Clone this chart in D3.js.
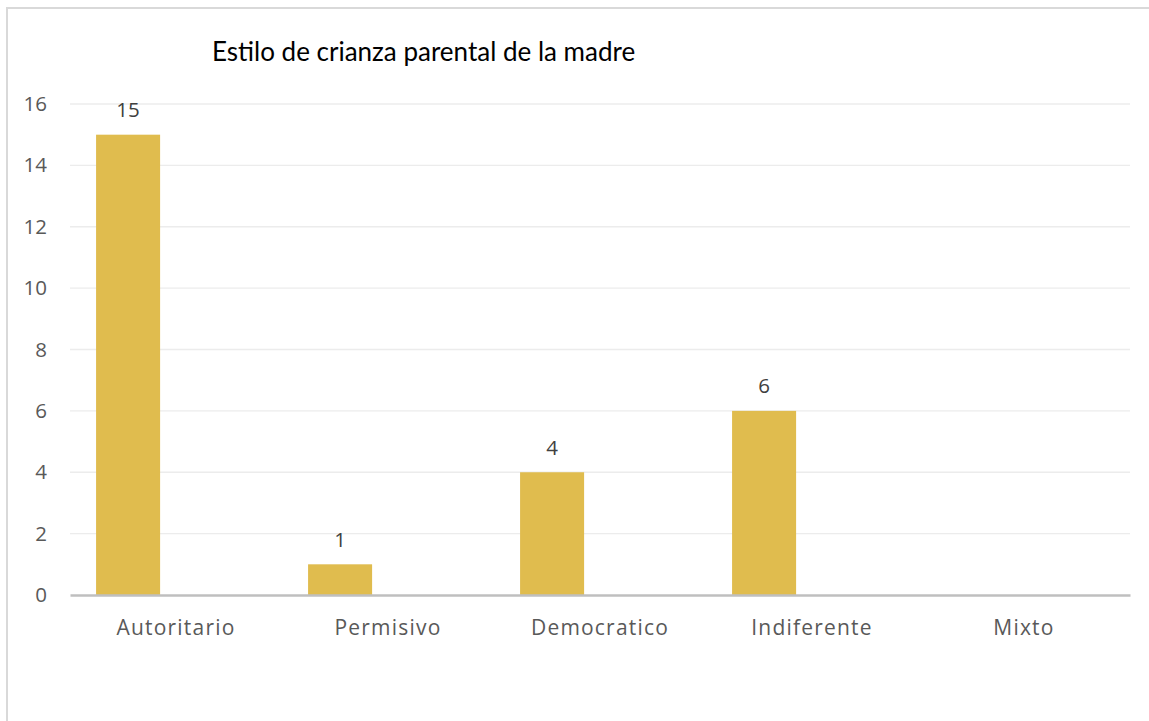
<!DOCTYPE html>
<html lang="es">
<head>
<meta charset="utf-8">
<title>Estilo de crianza parental de la madre</title>
<script src="https://d3js.org/d3.v7.min.js"></script>
<style>
  body { margin: 0; background: #fff; }
  svg { display: block; }
</style>
</head>
<body>
<script>
// data
const categories = ["Autoritario", "Permisivo", "Democratico", "Indiferente", "Mixto"];
const values = [15, 1, 4, 6, 0];
const yTicks = [0, 2, 4, 6, 8, 10, 12, 14, 16];
const title = "Estilo de crianza parental de la madre";

const W = 1149, H = 721;
const margin = {top: 104, right: 19, bottom: 126, left: 70};
const width = W - margin.left - margin.right,
      height = H - margin.top - margin.bottom;
const font = "'Open Sans', sans-serif";

const svg = d3.select("body").append("svg")
    .attr("width", W).attr("height", H);

// chart frame
svg.append("rect")
    .attr("x", 7).attr("y", 8)
    .attr("width", W + 20).attr("height", H + 20)
    .attr("fill", "none").attr("stroke", "#d9d9d9").attr("stroke-width", 2);

svg.append("text")
    .attr("x", 212).attr("y", 61)
    .attr("font-family", "Lato, 'Open Sans', sans-serif")
    .attr("font-size", 26)
    .attr("fill", "#000")
    .text(title);

const g = svg.append("g").attr("transform", `translate(${margin.left},${margin.top})`);

const x = d3.scaleBand().domain(categories).range([0, width]).padding(0);
const y = d3.scaleLinear().domain([0, 16]).range([height, 0]);

// gridlines
g.append("g").selectAll("line")
    .data(yTicks.filter(t => t > 0))
    .join("line")
    .attr("x1", 0).attr("x2", width)
    .attr("y1", d => y(d)).attr("y2", d => y(d))
    .attr("stroke", "#ececec").attr("stroke-width", 1.3);

// y axis labels
const yAxis = d3.axisLeft(y).tickValues(yTicks).tickSize(0).tickPadding(23);
g.append("g").call(yAxis)
    .call(a => a.select(".domain").remove())
    .selectAll("text")
    .attr("font-family", font)
    .attr("font-size", 20.5)
    .attr("fill", "#595959");

// bars (offset inside each category band, as in the original clustered layout)
const barOff = x.bandwidth() * 0.123, barW = x.bandwidth() * 0.302;
g.append("g").selectAll("rect")
    .data(values.map((v, i) => ({c: categories[i], v})))
    .join("rect")
    .attr("x", d => x(d.c) + barOff)
    .attr("y", d => y(d.v))
    .attr("width", barW)
    .attr("height", d => y(0) - y(d.v))
    .attr("fill", "#e0bc4e");

// data labels
g.append("g").selectAll("text")
    .data(values.map((v, i) => ({c: categories[i], v})).filter(d => d.v > 0))
    .join("text")
    .attr("x", d => x(d.c) + barOff + barW / 2)
    .attr("y", d => y(d.v) - 17.5)
    .attr("text-anchor", "middle")
    .attr("font-family", font)
    .attr("font-size", 20.5)
    .attr("fill", "#404040")
    .text(d => d.v);

// x axis
const xAxis = d3.axisBottom(x).tickSize(0).tickPadding(25);
g.append("g").attr("transform", `translate(0,${height})`).call(xAxis)
    .call(a => a.select(".domain").attr("stroke", "#bfbfbf").attr("stroke-width", 2.5))
    .selectAll("text")
    .attr("font-family", font)
    .attr("font-size", 21)
    .attr("letter-spacing", 1.2)
    .attr("fill", "#595959");
</script>
</body>
</html>
